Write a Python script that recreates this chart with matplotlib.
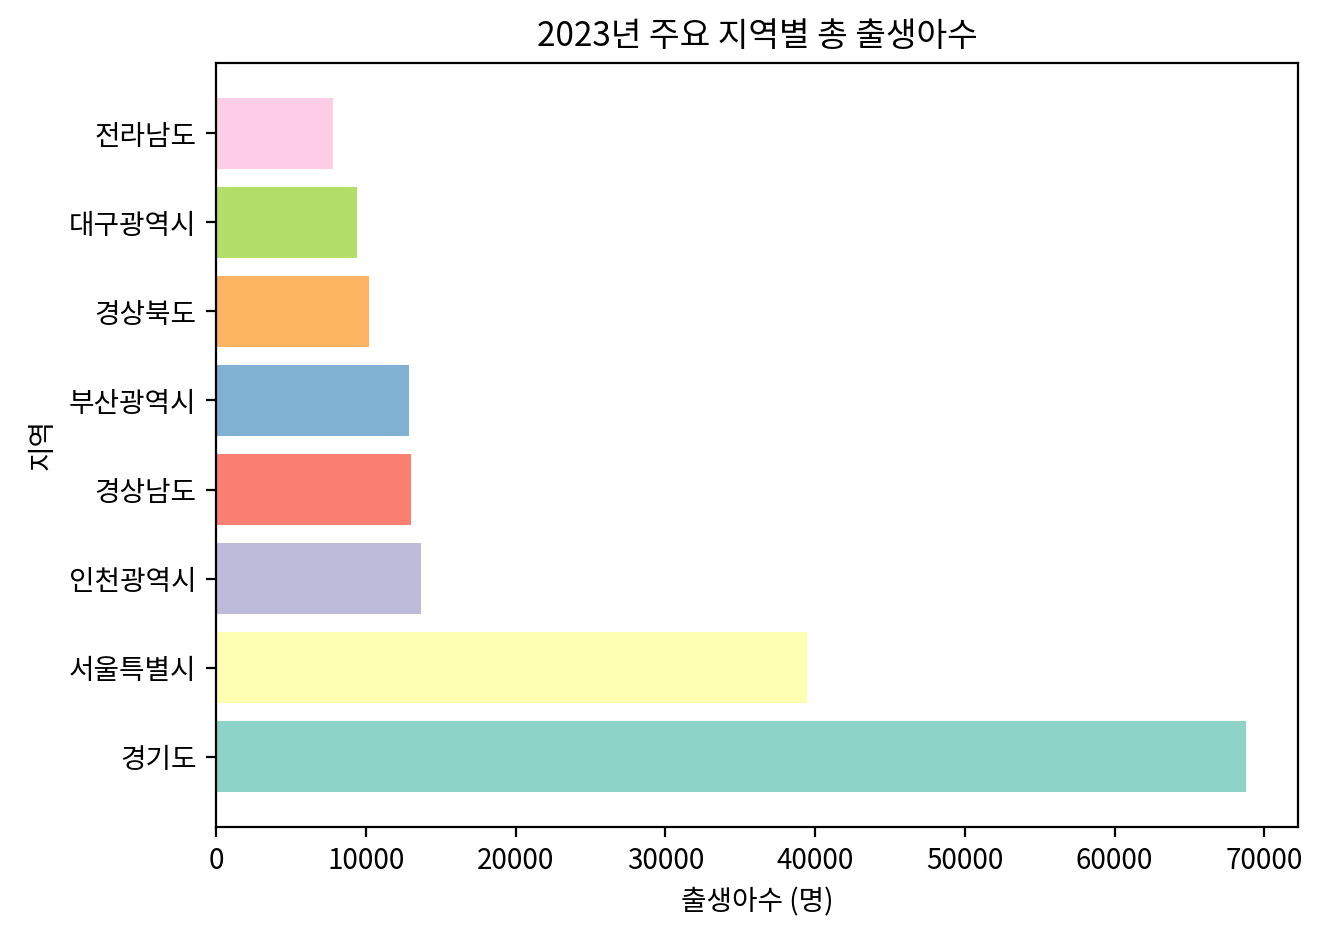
import matplotlib
matplotlib.use('Agg')
import matplotlib.pyplot as plt

plt.rcParams['font.family'] = ['Noto Sans CJK KR', 'DejaVu Sans']
plt.rcParams['axes.unicode_minus'] = False

# 2023 births by region
regions = ['경기도', '서울특별시', '인천광역시', '경상남도', '부산광역시', '경상북도', '대구광역시', '전라남도']
births = [68800, 39450, 13700, 13000, 12900, 10200, 9400, 7800]

colors = plt.cm.Set3.colors[:len(regions)]

fig, ax = plt.subplots(figsize=(6.64, 4.7), dpi=200)
fig.subplots_adjust(left=0.1627, right=0.9774, top=0.933, bottom=0.1202)

ax.barh(regions, births, color=colors)
ax.set_title('2023년 주요 지역별 총 출생아수')
ax.set_xlabel('출생아수 (명)')
ax.set_ylabel('지역')

fig.savefig('out.png', dpi=200)
